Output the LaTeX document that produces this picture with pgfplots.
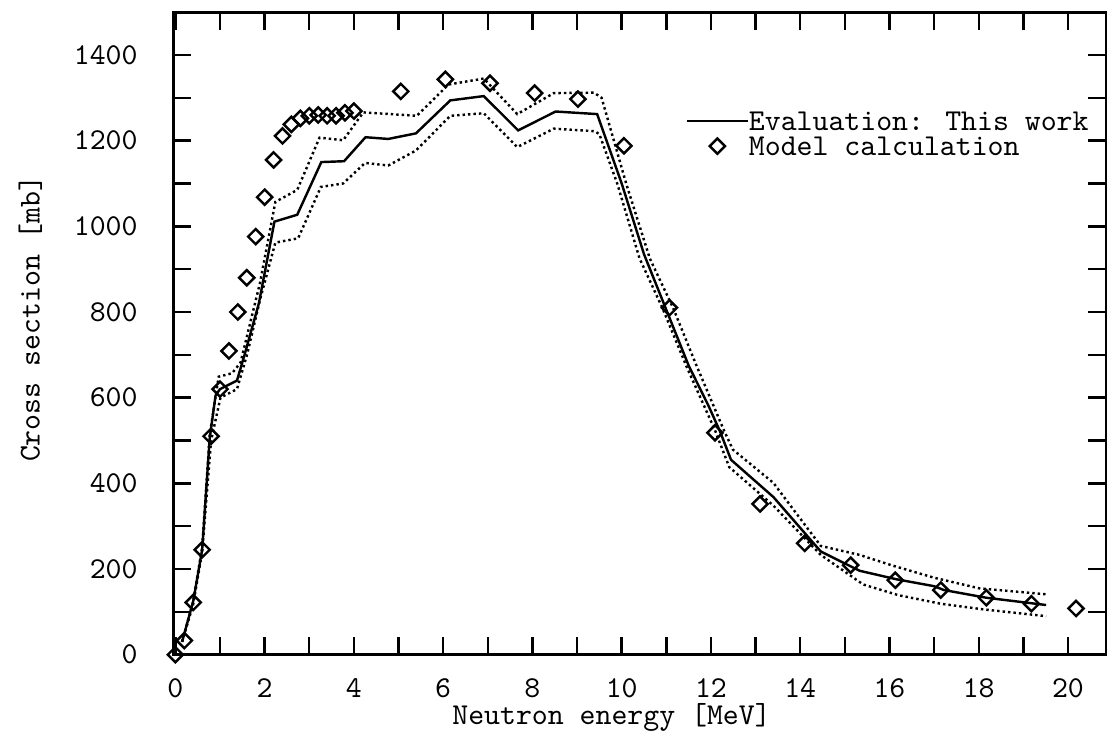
\documentclass[border=0pt]{standalone}
\usepackage{pgfplots}
\pgfplotsset{compat=1.18}
\begin{document}
\begin{tikzpicture}
\begin{axis}[
  scale only axis, width=307.6pt, height=211.9pt,
  xmin=-0.05, xmax=20.85, ymin=0, ymax=1500,
  xtick={0,2,...,20}, minor x tick num=1,
  ytick={0,200,...,1400}, minor y tick num=1,
  tick align=inside, major tick length=6pt, minor tick length=6pt,
  tick style={line width=0.8pt, black},
  axis line style={line width=0.9pt},
  font=\ttfamily,
  ticklabel style={font=\ttfamily},
  /pgf/number format/assume math mode=true,
  /pgf/number format/1000 sep={},
  yticklabel style={xshift=-8.2pt},
  xticklabel style={yshift=-4.3pt},
  xlabel={Neutron energy [MeV]}, ylabel={Cross section [mb]},
  xlabel style={at={(axis description cs:0.47,-0.098)}, anchor=center},
  ylabel style={at={(axis description cs:-0.153,0.523)}, anchor=center},
  clip=false,
  legend style={draw=none, fill=none, at={(axis description cs:0.549,0.846)},
    anchor=north west, inner sep=0pt, row sep=2.2pt, font=\ttfamily,
    nodes={inner sep=0pt, text height=6.1pt, text depth=0pt}},
  legend cell align=left,
  legend image code/.code={\draw[mark repeat=2,mark phase=2,#1] plot coordinates {(0pt,0pt) (10pt,0pt) (20pt,0pt)};},
]
% evaluation (central)
\addplot[black, line width=0.8pt] coordinates {
(0.15,30) (0.4,125) (0.6,245) (0.77,506) (0.9,605) (1.0,620) (1.38,640) (1.55,700)
(1.87,820) (2.22,1011) (2.73,1027) (3.27,1150) (3.78,1152) (4.26,1208) (4.77,1204)
(5.39,1217) (6.16,1294) (6.91,1304) (7.68,1224) (8.52,1268) (9.45,1262) (10.0,1100)
(10.5,935) (11.0,805) (11.5,675) (11.95,580) (12.2,522) (12.45,455) (13.4,368)
(14.46,241) (15.33,196) (16.16,176) (17.0,160) (17.22,151) (18.17,133) (19.51,116)};
\addlegendentry{Evaluation: This work}
% model calculation
\addplot[only marks, mark=square, mark size=1.77pt, mark options={rotate=45, line width=0.8pt, black}] coordinates {
(0,0) (0.2,33) (0.4,122) (0.6,245) (0.8,510) (1.0,620) (1.2,709) (1.4,800) (1.6,880)
(1.8,976) (2.0,1068) (2.2,1155) (2.4,1211) (2.6,1238) (2.8,1252) (3.0,1258) (3.2,1260)
(3.4,1258) (3.6,1258) (3.8,1265) (4.0,1269) (5.05,1315) (6.05,1343) (7.05,1334)
(8.05,1311) (9.02,1297) (10.05,1188) (11.07,810) (12.09,518) (13.1,352) (14.1,260)
(15.13,209) (16.13,174) (17.15,151) (18.17,133) (19.18,119) (20.18,108)};
\addlegendentry{Model calculation}
% upper uncertainty band
\addplot[black, line width=0.8pt, densely dotted, forget plot] coordinates {
(0.15,30) (0.4,125) (0.6,250) (0.77,514) (0.97,649) (1.27,657) (1.46,682) (1.9,870)
(2.24,1057) (2.73,1085) (3.23,1207) (3.76,1201) (4.21,1266) (5.41,1258) (6.12,1331)
(6.91,1345) (7.66,1262) (8.48,1311) (9.38,1312) (9.55,1300) (10.1,1100) (10.63,925)
(11.15,810) (11.66,679) (12.29,524) (12.49,479) (13.4,401) (14.46,254) (15.33,233)
(16.04,209) (16.99,180) (18.01,155) (19.51,141)};
% lower uncertainty band
\addplot[black, line width=0.8pt, densely dotted, forget plot] coordinates {
(0.15,30) (0.4,118) (0.6,240) (0.8,500) (1.01,600) (1.38,620) (1.61,702) (1.9,830)
(2.24,962) (2.75,972) (3.26,1092) (3.76,1100) (4.25,1148) (4.77,1142) (5.39,1177)
(6.16,1258) (6.91,1264) (7.66,1185) (8.48,1228) (9.4,1222) (9.5,1215) (9.9,1100)
(10.4,925) (10.91,810) (11.46,671) (12.09,524) (12.41,438) (13.4,348) (14.46,233)
(15.41,164) (16.2,139) (17.15,119) (18.09,106) (19.51,90)};
\end{axis}
\path (current axis.south west) ++(-57.1pt,-31pt) rectangle ([shift={(2pt,4pt)}]current axis.north east);
\end{tikzpicture}
\end{document}
